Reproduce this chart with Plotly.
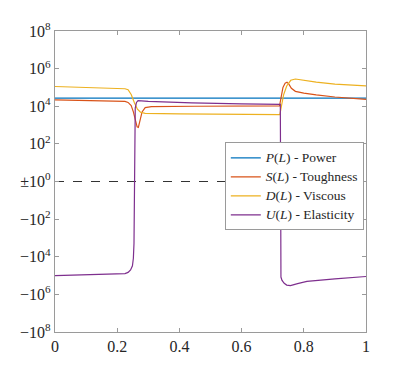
import numpy as np
import plotly.graph_objects as go

# ---- data (real values, plotted on a symmetric-log axis) ----
L_P = [0.0, 1.0]
P_vals = [2.7e4, 2.7e4]

L_S = [0.0, 0.1, 0.2, 0.225, 0.235, 0.245, 0.252, 0.258, 0.264, 0.268, 0.273, 0.28, 0.29,
       0.31, 0.45, 0.6, 0.722, 0.727, 0.733, 0.74, 0.746, 0.752, 0.76, 0.773, 0.8, 0.84,
       0.9, 1.0]
S_vals = [2.2e4, 2.0e4, 1.85e4, 1.8e4, 1.6e4, 1.1e4, 5e3, 1.8e3, 8e2, 7.5e2, 1.5e3, 5e3,
          8.5e3, 9.5e3, 1.0e4, 1.02e4, 1.05e4, 3e4, 1.0e5, 1.7e5, 1.9e5, 1.5e5, 9e4,
          6.2e4, 5e4, 4e4, 3.1e4, 2.3e4]

L_D = [0.0, 0.1, 0.2, 0.225, 0.235, 0.245, 0.255, 0.265, 0.275, 0.29, 0.4, 0.6, 0.723,
       0.728, 0.735, 0.745, 0.758, 0.773, 0.8, 0.84, 0.9, 1.0]
D_vals = [1.12e5, 1.0e5, 9.0e4, 8.5e4, 7.5e4, 4.2e4, 1.6e4, 7e3, 4.8e3, 4.2e3, 3.9e3,
          3.7e3, 3.6e3, 1e4, 4e4, 1.2e5, 2.4e5, 2.8e5, 2.4e5, 1.9e5, 1.5e5, 1.2e5]

L_U = [0.0, 0.1, 0.2, 0.225, 0.235, 0.243, 0.249, 0.252, 0.254, 0.255, 0.256, 0.258,
       0.262, 0.267, 0.3, 0.44, 0.6, 0.7245, 0.7255, 0.7265, 0.73, 0.737, 0.745, 0.757,
       0.78, 0.81, 0.9, 1.0]
U_vals = [-1.02e5, -9.2e4, -8.2e4, -7.8e4, -6.8e4, -5e4, -3e4, -1.2e4, -2e3, 0, 2e3, 8e3,
          1.6e4, 2.0e4, 1.8e4, 1.5e4, 1.35e4, 1.25e4, 0, -1.2e5, -1.8e5, -2.6e5, -3.2e5,
          -3.4e5, -2.7e5, -2.05e5, -1.5e5, -1.12e5]

L_ref = [0.0, 1.0]
ref_vals = [0.0, 0.0]

y_tick_vals = [1e8, 1e6, 1e4, 1e2, 1, -1e2, -1e4, -1e6, -1e8]
y_tick_text = ["10<sup>8</sup>", "10<sup>6</sup>", "10<sup>4</sup>", "10<sup>2</sup>",
               "±10<sup>0</sup>", "−10<sup>2</sup>", "−10<sup>4</sup>", "−10<sup>6</sup>",
               "−10<sup>8</sup>"]
x_tick_vals = [0, 0.2, 0.4, 0.6, 0.8, 1]
x_tick_text = ["0", "0.2", "0.4", "0.6", "0.8", "1"]

names = ["<i>P</i>(<i>L</i>) - Power", "<i>S</i>(<i>L</i>) - Toughness",
         "<i>D</i>(<i>L</i>) - Viscous", "<i>U</i>(<i>L</i>) - Elasticity"]
colors = ["#0072BD", "#D95319", "#EDB120", "#7E2F8E"]


def symlog(v):
    v = np.asarray(v, dtype=float)
    return np.sign(v) * np.log10(np.maximum(np.abs(v), 1.0))


FONT = "Liberation Serif, Times New Roman, serif"
fig = go.Figure()
fig.add_trace(go.Scatter(x=L_ref, y=symlog(ref_vals), mode="lines", showlegend=False,
                         line=dict(color="#333333", width=1.2, dash="dash"), hoverinfo="skip"))
for Ls, vals, nm, c in zip([L_P, L_S, L_D, L_U], [P_vals, S_vals, D_vals, U_vals], names, colors):
    fig.add_trace(go.Scatter(x=Ls, y=symlog(vals), mode="lines",
                             name='<span style="font-size:13.5px">' + nm + "</span>",
                             line=dict(color=c, width=1.2)))

axis_common = dict(showline=True, linecolor="#9a9a9a", linewidth=1.2, mirror="ticks",
                   ticks="inside", ticklen=4, tickcolor="#9a9a9a", showgrid=False,
                   zeroline=False, tickfont=dict(family=FONT, size=16, color="#262626"))
fig.update_xaxes(range=[0, 1], tickvals=x_tick_vals, ticktext=x_tick_text, **axis_common)
fig.update_yaxes(range=[-8, 8], tickvals=list(symlog(y_tick_vals)), ticktext=y_tick_text,
                 **axis_common)

fig.update_layout(
    width=405, height=373,
    margin=dict(l=45, r=47, t=19, b=49),
    paper_bgcolor="white", plot_bgcolor="white",
    showlegend=True,
    legend=dict(x=0.546, y=0.63, xanchor="left", yanchor="top",
                bgcolor="white", bordercolor="#9a9a9a", borderwidth=1,
                font=dict(family=FONT, size=10, color="#262626"),
                itemwidth=30, tracegroupgap=0),
)
fig.write_html("out.html")
